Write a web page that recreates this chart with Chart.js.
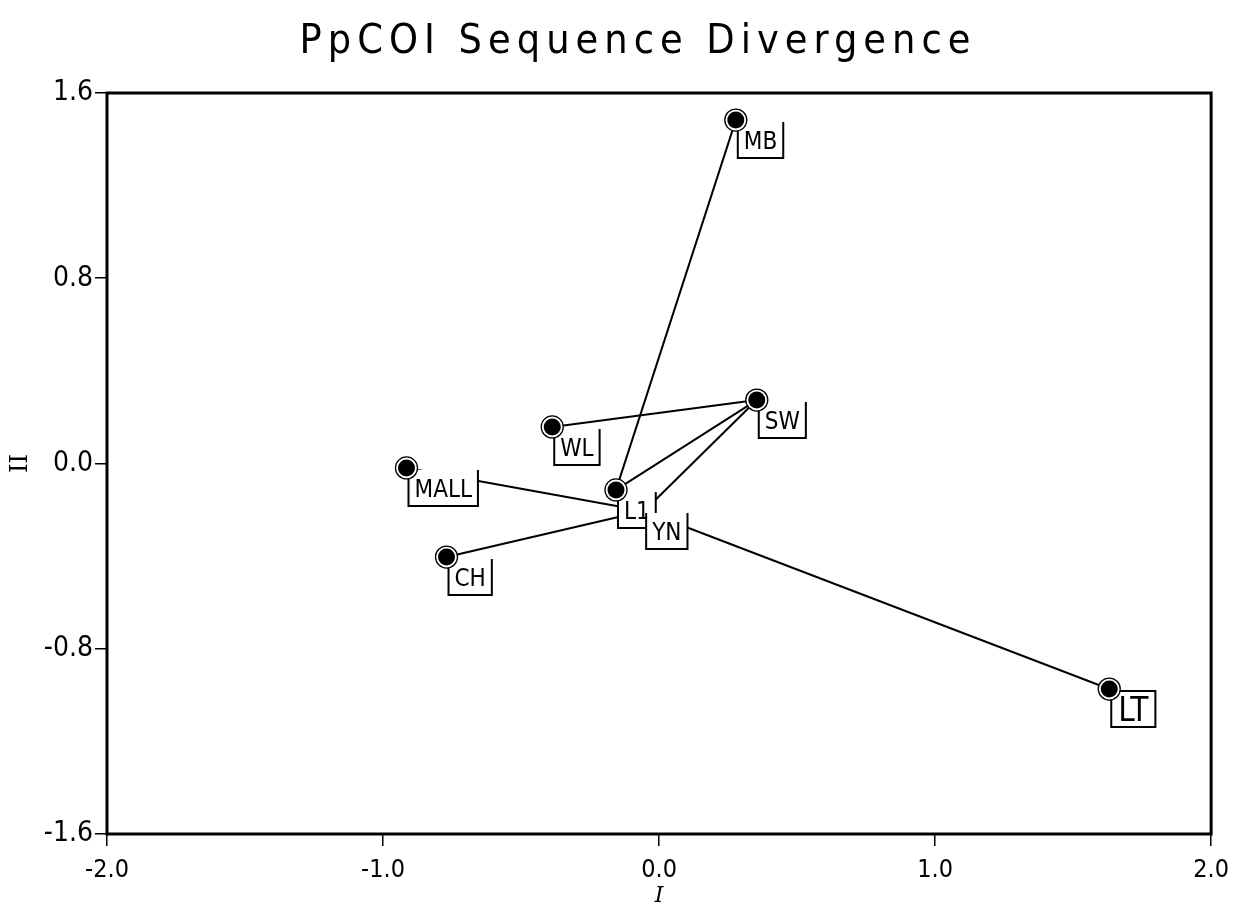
<!DOCTYPE html>
<html lang="en">
<head>
<meta charset="UTF-8">
<title>PpCOI Sequence Divergence</title>
<script src="https://cdn.jsdelivr.net/npm/chart.js"></script>
<style>
  html, body { margin: 0; padding: 0; background: #fff; }
  #wrap { width: 1238px; height: 911px; }
</style>
</head>
<body>
<div id="wrap"><canvas id="chart"></canvas></div>
<script>
  const chartTitle = "PpCOI Sequence Divergence";
  const siteNames = ["MB", "SW", "WL", "MALL", "L1", "YN", "CH", "LT"];
  const axisI  = [0.278, 0.354, -0.387, -0.915, -0.156, -0.054, -0.770, 1.631];
  const axisII = [1.483, 0.274, 0.158, -0.019, -0.114, -0.205, -0.404, -0.974];
  // which sites are joined by a line
  const links = [["MB", "L1"], ["L1", "SW"], ["WL", "SW"], ["SW", "YN"],
                 ["MALL", "YN"], ["CH", "YN"], ["YN", "LT"]];
  const noMarker = ["YN"];
  const closedBox = ["LT"];
  const xTicks = [-2, -1, 0, 1, 2];
  const yTicks = [-1.6, -0.8, 0, 0.8, 1.6];

  const FONT = '"Liberation Sans Narrow", "DejaVu Sans Condensed", sans-serif';

  const pts = siteNames.map((n, i) => ({ x: axisI[i], y: axisII[i] }));
  const ptOf = name => pts[siteNames.indexOf(name)];

  const linkSets = links.map(([a, b]) => ({
    data: [ptOf(a), ptOf(b)],
    showLine: true,
    borderColor: "#000",
    borderWidth: 2,
    pointRadius: 0
  }));

  const markerRadius = r => ctx => noMarker.includes(siteNames[ctx.dataIndex]) ? 0 : r;

  // title at the top, letter spaced
  const titlePlugin = {
    id: "plotTitle",
    afterDraw(chart) {
      const ctx = chart.ctx;
      ctx.save();
      ctx.font = "41px " + FONT;
      ctx.letterSpacing = "6px";
      ctx.fillStyle = "#000";
      ctx.textAlign = "center";
      ctx.textBaseline = "middle";
      ctx.fillText(chartTitle, 638, 42);
      ctx.restore();
    }
  };

  // label boxes drawn over the lines but under the markers
  const labelBoxes = {
    id: "labelBoxes",
    beforeDatasetDraw(chart, args) {
      if (args.index !== 1) return;
      const ctx = chart.ctx, xs = chart.scales.x, ys = chart.scales.y;
      ctx.save();
      siteNames.forEach((name, i) => {
        const big = closedBox.includes(name);
        const px = xs.getPixelForValue(axisI[i]) + 2;
        const py = ys.getPixelForValue(axisII[i]) + 2;
        ctx.font = (big ? 33 : 24) + "px " + FONT;
        const w = ctx.measureText(name).width + (big ? 14 : 12);
        const h = 36;
        ctx.fillStyle = "#fff";
        ctx.fillRect(px, py, w, h);
        ctx.strokeStyle = "#000";
        ctx.lineWidth = 2;
        ctx.beginPath();
        if (big) {
          ctx.rect(px, py, w, h);
        } else {
          ctx.moveTo(px, py);
          ctx.lineTo(px, py + h);
          ctx.lineTo(px + w, py + h);
          ctx.lineTo(px + w, py);
        }
        ctx.stroke();
        ctx.fillStyle = "#000";
        ctx.textAlign = "center";
        ctx.textBaseline = "middle";
        ctx.fillText(name, px + w / 2, py + h / 2 + 3);
      });
      ctx.restore();
    }
  };

  const framePlugin = {
    id: "frame",
    afterDraw(chart) {
      const a = chart.chartArea, ctx = chart.ctx;
      ctx.save();
      ctx.strokeStyle = "#000";
      ctx.lineWidth = 3;
      ctx.strokeRect(a.left, a.top, a.right - a.left, a.bottom - a.top);
      ctx.restore();
    }
  };

  new Chart(document.getElementById("chart"), {
    type: "scatter",
    data: {
      datasets: [
        { data: pts, pointRadius: markerRadius(8.5), backgroundColor: "#000", borderColor: "#000", borderWidth: 0 },
        { data: pts, pointRadius: markerRadius(11), backgroundColor: "#fff", borderColor: "#000", borderWidth: 1.3 },
        ...linkSets
      ]
    },
    options: {
      responsive: true,
      maintainAspectRatio: false,
      animation: false,
      layout: { padding: { top: 93, right: 25, left: 0, bottom: 0 } },
      plugins: { legend: { display: false }, tooltip: { enabled: false } },
      scales: {
        x: {
          min: -2, max: 2,
          afterBuildTicks: s => { s.ticks = xTicks.map(v => ({ value: v })); },
          afterFit: s => { s.height = 77; },
          border: { display: false },
          grid: { drawOnChartArea: false, drawTicks: true, tickLength: 12, color: "#000", lineWidth: 1.5 },
          ticks: { color: "#000", padding: 9, maxRotation: 0, font: { family: FONT, size: 25 },
                   callback: v => Number(v).toFixed(1) },
          title: { display: true, text: "I", color: "#000", padding: { top: 0, bottom: 2 },
                   font: { family: "DejaVu Serif", size: 22, style: "italic" } }
        },
        y: {
          min: -1.6, max: 1.6,
          afterBuildTicks: s => { s.ticks = yTicks.map(v => ({ value: v })); },
          afterFit: s => { s.width = 107; },
          border: { display: false },
          grid: { drawOnChartArea: false, drawTicks: true, tickLength: 12, color: "#000", lineWidth: 1.5 },
          ticks: { color: "#000", padding: 2, font: { family: FONT, size: 28 },
                   callback: v => Number(v).toFixed(1) },
          title: { display: true, text: "II", color: "#000", padding: { top: 6, bottom: 0 },
                   font: { family: "DejaVu Serif", size: 24 } }
        }
      }
    },
    plugins: [titlePlugin, labelBoxes, framePlugin]
  });
</script>
</body>
</html>
